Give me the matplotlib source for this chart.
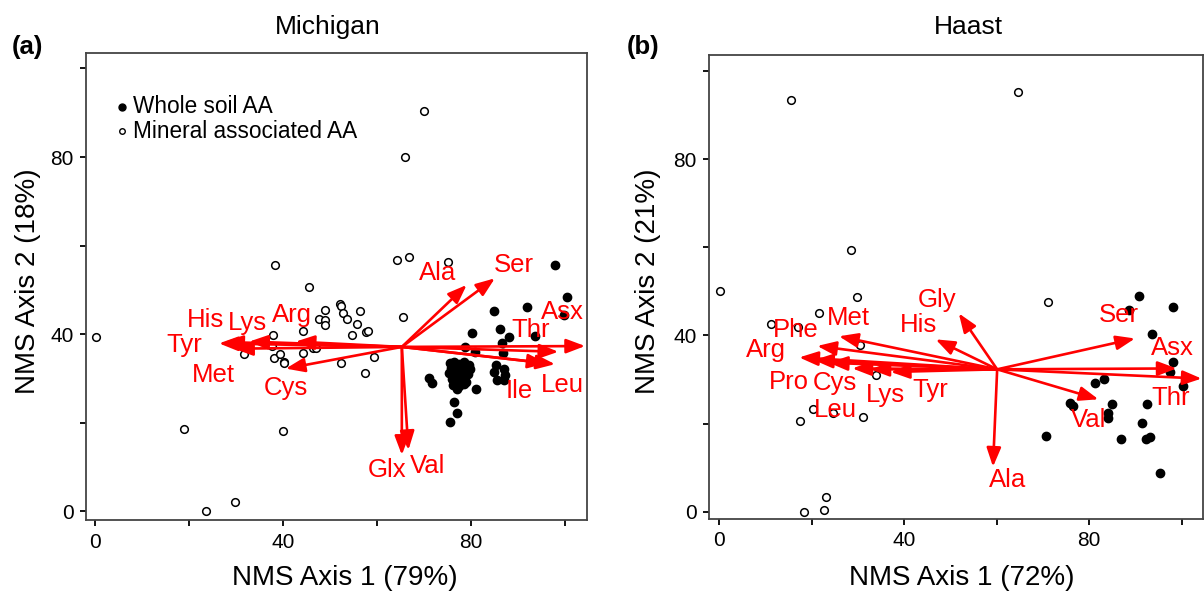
import matplotlib
matplotlib.use('Agg')
import matplotlib.pyplot as plt

plt.rcParams['font.family'] = ['Liberation Sans', 'DejaVu Sans']

# ---------------- Michigan (a) ----------------
mi_mineral_x = [70.1, 65.9, 38.4, 64.3, 66.9, 75.1, 45.6, 65.6, 49.0, 52.1, 52.4, 52.8,
                47.6, 49.0, 49.0, 53.6, 56.3, 55.8, 57.7, 58.0, 54.7, 44.2, 37.9, 37.7,
                31.7, 38.2, 39.4, 40.2, 40.3, 44.3, 46.4, 47.1, 52.4, 59.4, 57.4, 0.2,
                19.0, 40.0, 29.7, 23.6]
mi_mineral_y = [90.4, 80.1, 55.7, 56.7, 57.5, 56.3, 50.6, 43.8, 45.5, 46.7, 46.3, 44.7,
                43.3, 43.2, 42.0, 43.3, 45.3, 42.3, 40.5, 40.7, 39.8, 40.7, 39.8, 37.3,
                35.5, 34.7, 35.5, 33.7, 33.4, 35.8, 36.9, 36.9, 33.5, 34.9, 31.1, 39.4,
                18.5, 18.2, 2.0, 0.0]

mi_whole_x = [97.9, 100.4, 99.7, 91.9, 84.9, 86.1, 80.2, 88.2, 93.6, 86.6, 86.9, 80.9,
              78.8, 71.0, 71.7, 77.0, 81.1, 85.4, 85.0, 85.6, 87.0, 87.3, 87.0, 76.3,
              77.0, 75.6,
              75.5, 76.5, 77.5, 78.5, 79.5, 75.8, 76.8, 77.8, 78.8, 79.8, 75.3, 76.3,
              77.3, 78.3, 79.3, 75.9, 76.9, 77.9, 78.9, 76.2, 77.5, 78.6]
mi_whole_y = [55.6, 48.4, 44.3, 46.2, 45.2, 41.1, 40.3, 39.4, 39.6, 37.9, 35.8, 36.0,
              37.0, 30.0, 29.0, 27.5, 27.7, 33.0, 31.5, 29.7, 32.2, 30.7, 29.7, 24.7,
              22.2, 20.2,
              33.5, 33.8, 33.2, 33.7, 33.0, 32.4, 32.0, 32.5, 31.8, 32.2, 31.2, 30.8,
              31.0, 30.5, 30.9, 29.8, 29.4, 29.9, 29.2, 28.6, 28.3, 28.8]

mi_origin = (65.3, 37.1)
mi_vec_names = ['Tyr', 'His', 'Met', 'Lys', 'Arg', 'Cys', 'Ala', 'Ser', 'Asx', 'Thr',
                'Leu', 'Ile', 'Glx', 'Val']
mi_vec_x = [26.4, 27.5, 29.6, 32.8, 42.7, 40.6, 79.1, 85.1, 104.3, 98.6, 97.9, 96.1,
            65.3, 66.7]
mi_vec_y = [37.9, 38.2, 36.7, 38.3, 38.3, 32.2, 51.1, 52.6, 37.3, 36.0, 33.2, 33.4,
            12.7, 13.8]
mi_lab_x = [18.9, 23.6, 25.3, 32.5, 42.0, 40.6, 73.0, 89.2, 99.4, 92.8, 99.4, 90.2,
            62.2, 70.7]
mi_lab_y = [37.5, 43.2, 30.7, 42.5, 44.3, 27.8, 53.8, 55.6, 45.0, 40.9, 28.5, 27.1,
            9.3, 10.2]

# ---------------- Haast (b) ----------------
ha_mineral_x = [15.6, 64.6, 28.4, 0.15, 71.1, 29.7, 21.6, 11.3, 17.1, 30.4, 34.0, 20.2,
                24.6, 17.5, 31.2, 23.1, 22.7, 18.3]
ha_mineral_y = [93.5, 95.2, 59.3, 50.1, 47.6, 48.6, 45.0, 42.5, 42.0, 37.8, 31.0, 23.2,
                22.3, 20.6, 21.5, 3.4, 0.5, 0.0]

ha_whole_x = [90.7, 88.5, 98.1, 93.6, 98.1, 97.5, 100.2, 81.2, 83.2, 75.8, 76.4, 84.9,
              84.0, 84.0, 92.6, 91.4, 70.6, 86.9, 92.3, 93.2, 95.3]
ha_whole_y = [48.9, 45.7, 46.5, 40.3, 33.9, 31.6, 28.5, 29.3, 30.1, 24.7, 23.9, 24.4,
              22.3, 21.2, 24.4, 20.2, 17.2, 16.6, 16.5, 17.0, 8.7]

ha_origin = (60.1, 32.3)
ha_vec_names = ['Gly', 'His', 'Met', 'Phe', 'Arg', 'Pro', 'Cys', 'Leu', 'Lys', 'Tyr',
                'Ser', 'Asx', 'Thr', 'Val', 'Ala']
ha_vec_x = [51.8, 46.8, 25.9, 21.2, 17.3, 20.5, 23.7, 28.8, 32.7, 37.1, 89.9, 98.9,
            104.3, 82.0, 59.2]
ha_vec_y = [45.0, 39.1, 39.8, 37.6, 35.0, 34.4, 33.8, 32.5, 32.3, 31.7, 39.3, 32.5,
            30.2, 25.5, 10.2]
ha_lab_x = [47.0, 43.1, 28.0, 16.5, 10.2, 15.0, 25.1, 25.1, 35.9, 45.7, 86.3, 97.9,
            97.5, 79.8, 62.3]
ha_lab_y = [48.0, 42.3, 43.9, 41.2, 36.7, 29.4, 29.3, 23.0, 26.5, 27.6, 44.6, 37.1,
            25.8, 20.8, 7.2]

ticks = [0, 20, 40, 60, 80, 100]
tick_labels = ['0', '', '40', '', '80', '']
legend_labels = ['Whole soil AA', 'Mineral associated AA']

RED = '#ff0000'
W, H = 1204, 593
fig = plt.figure(figsize=(W / 100, H / 100), dpi=100)


def px_rect(l, t, r, b):
    return [l / W, 1 - b / H, (r - l) / W, (b - t) / H]


def draw_panel(ax, mx, my, wx, wy, origin, names, vx, vy, lx, ly, xlim, ylim):
    ax.set_xlim(*xlim)
    ax.set_ylim(*ylim)
    ax.plot(mx, my, linestyle='none', marker='o', markersize=5.5, markerfacecolor='white',
            markeredgecolor='black', markeredgewidth=1.1, zorder=3)
    ax.plot(wx, wy, linestyle='none', marker='o', markersize=6, markerfacecolor='black',
            markeredgecolor='black', zorder=3)
    for n, x, y, tx, ty in zip(names, vx, vy, lx, ly):
        ax.annotate('', xy=(x, y), xytext=origin,
                    arrowprops=dict(arrowstyle='-|>,head_length=0.95,head_width=0.36',
                                    color=RED, lw=1.9, shrinkA=0, shrinkB=0,
                                    mutation_scale=12),
                    zorder=4, annotation_clip=False)
        ax.text(tx, ty, n, color=RED, fontsize=18.5, ha='center', va='center', zorder=5)
    ax.set_xticks(ticks)
    ax.set_xticklabels(tick_labels)
    ax.set_yticks(ticks)
    ax.set_yticklabels(tick_labels)
    ax.tick_params(direction='out', length=4, width=1.3, labelsize=15, pad=5,
                   colors='black')
    for s in ax.spines.values():
        s.set_color('#444444')
        s.set_linewidth(1.3)


ax1 = fig.add_axes(px_rect(86, 53, 587, 520))
draw_panel(ax1, mi_mineral_x, mi_mineral_y, mi_whole_x, mi_whole_y, mi_origin,
           mi_vec_names, mi_vec_x, mi_vec_y, mi_lab_x, mi_lab_y,
           (-1.9, 104.7), (-2.0, 103.5))

ax2 = fig.add_axes(px_rect(709, 55, 1203, 519))
draw_panel(ax2, ha_mineral_x, ha_mineral_y, ha_whole_x, ha_whole_y, ha_origin,
           ha_vec_names, ha_vec_x, ha_vec_y, ha_lab_x, ha_lab_y,
           (-2.2, 104.6), (-1.65, 103.6))

# legend (manual, in axes of panel a)
ax1.plot([0.072], [0.885], transform=ax1.transAxes, marker='o', markersize=5,
         markerfacecolor='black', markeredgecolor='black', linestyle='none', clip_on=False)
ax1.plot([0.072], [0.832], transform=ax1.transAxes, marker='o', markersize=4,
         markerfacecolor='white', markeredgecolor='black', markeredgewidth=1.0,
         linestyle='none', clip_on=False)
ax1.text(0.094, 0.859, '\n'.join(legend_labels), transform=ax1.transAxes, fontsize=16.3,
         va='center', ha='left', linespacing=1.12)

# titles, panel letters, axis labels
fig.text(328 / W, 1 - 27 / H, 'Michigan', fontsize=19, ha='center', va='center')
fig.text(968 / W, 1 - 27 / H, 'Haast', fontsize=19, ha='center', va='center')
fig.text(12 / W, 1 - 47 / H, '(a)', fontsize=18.5, fontweight='bold', ha='left', va='center')
fig.text(627 / W, 1 - 47 / H, '(b)', fontsize=18.5, fontweight='bold', ha='left', va='center')
fig.text(345 / W, 1 - 578 / H, 'NMS Axis 1 (79%)', fontsize=20, ha='center', va='center')
fig.text(962 / W, 1 - 578 / H, 'NMS Axis 1 (72%)', fontsize=20, ha='center', va='center')
fig.text(28 / W, 1 - 281 / H, 'NMS Axis 2 (18%)', fontsize=20, ha='center', va='center',
         rotation=90)
fig.text(648 / W, 1 - 281 / H, 'NMS Axis 2 (21%)', fontsize=20, ha='center', va='center',
         rotation=90)

fig.savefig('out.png', dpi=100)
